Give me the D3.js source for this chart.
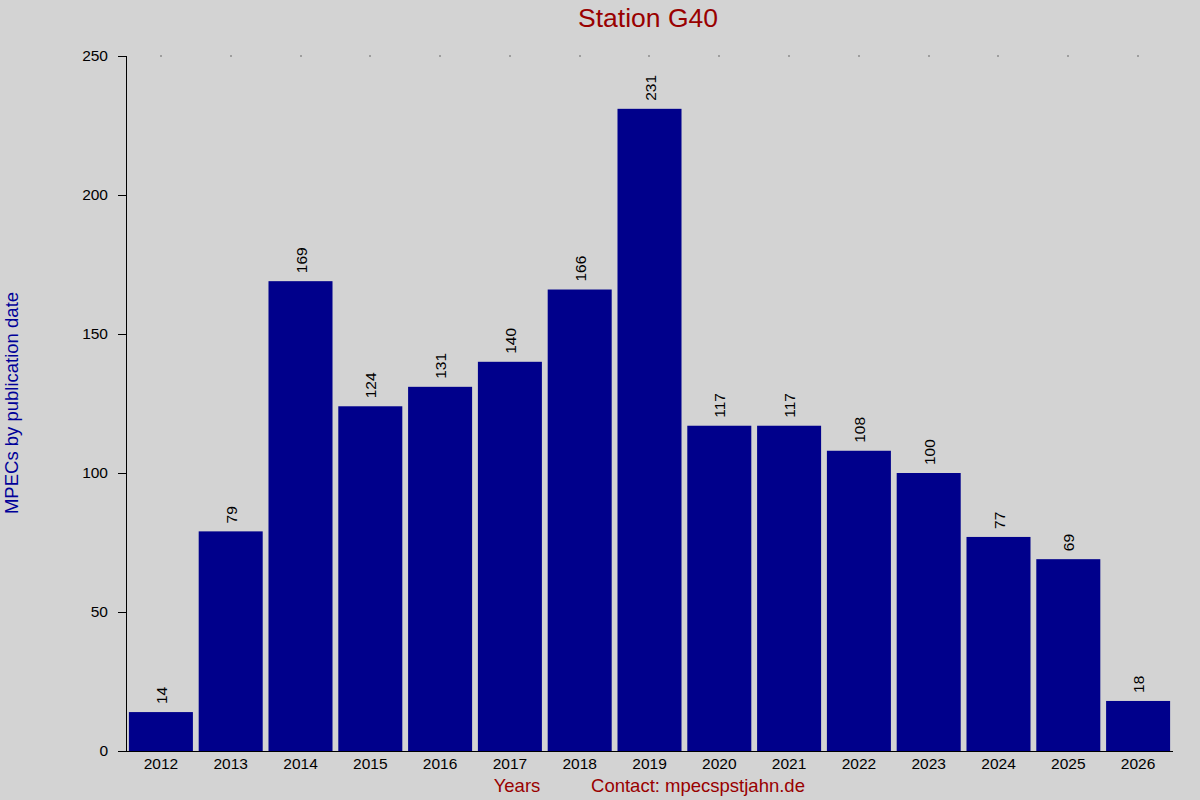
<!DOCTYPE html>
<html>
<head>
<meta charset="utf-8">
<script src="https://cdn.jsdelivr.net/npm/d3@7"></script>
<style>
	body { margin: 0; background: #d3d3d3; }
	svg { display: block; font-family: "Liberation Sans", Arial, sans-serif; }
</style>
</head>
<body>
<div id="chart"><svg></svg></div>
<script>
var years = ["2012", "2013", "2014", "2015", "2016", "2017", "2018", "2019",
	"2020", "2021", "2022", "2023", "2024", "2025", "2026"];
var counts = [14, 79, 169, 124, 131, 140, 166, 231, 117, 117, 108, 100, 77, 69, 18];
var yTicks = [0, 50, 100, 150, 200, 250];

var width = 1200, height = 800;
var p_left = 126, p_right = 1173, p_top = 56, p_bottom = 751;

var svg = d3.select("#chart").select("svg")
	.attr("width", width)
	.attr("height", height);

svg.append("rect")
	.attr("width", width)
	.attr("height", height)
	.style("fill", "#d3d3d3");

var x = d3.scaleBand()
	.domain(years)
	.range([p_left, p_right])
	.paddingInner(0.083)
	.paddingOuter(0.0415);

var y = d3.scaleLinear()
	.domain([0, 250])
	.range([p_bottom, p_top]);

var data = years.map(function(d, i) { return { year: d, value: counts[i] }; });

// bars
svg.selectAll(".bar")
	.data(data)
	.enter()
	.append("rect")
	.attr("class", "bar")
	.attr("x", function(d) { return x(d.year); })
	.attr("y", function(d) { return y(d.value); })
	.attr("width", x.bandwidth())
	.attr("height", function(d) { return p_bottom - y(d.value); })
	.style("fill", "#00008b");

// value labels
svg.selectAll(".val")
	.data(data)
	.enter()
	.append("text")
	.attr("class", "val")
	.attr("transform", function(d) {
		return "translate(" + (x(d.year) + x.bandwidth() / 2 + 6) + "," + (y(d.value) - 8) + ") rotate(-90)";
	})
	.style("font-size", "15.5px")
	.style("fill", "#000")
	.text(function(d) { return d.value; });

// little dots along the top
svg.selectAll(".dot")
	.data(years)
	.enter()
	.append("rect")
	.attr("class", "dot")
	.attr("x", function(d) { return Math.round(x(d) + x.bandwidth() / 2) - 0.5; })
	.attr("y", p_top - 0.5)
	.attr("width", 1)
	.attr("height", 1)
	.style("fill", "#000");

// y axis
var yAxis = d3.axisLeft(y)
	.tickValues(yTicks)
	.tickSize(8)
	.tickSizeOuter(0)
	.tickPadding(10);

var gy = svg.append("g")
	.attr("class", "y")
	.attr("transform", "translate(" + p_left + ",0)")
	.call(yAxis);
gy.selectAll("text").style("font-size", "15.5px").style("font-family", "'Liberation Sans', Arial, sans-serif");
gy.select(".domain").attr("d", "M0.5," + p_top + "V" + (p_bottom + 0.5));

// x axis
var xAxis = d3.axisBottom(x)
	.tickSize(0)
	.tickPadding(7);

var gx = svg.append("g")
	.attr("class", "x")
	.attr("transform", "translate(0," + p_bottom + ")")
	.call(xAxis);
gx.selectAll("text").style("font-size", "15.5px").style("font-family", "'Liberation Sans', Arial, sans-serif");
gx.select(".domain").attr("d", "M" + (p_left - 8) + ",0.5H" + p_right);

// titles
svg.append("text")
	.attr("x", 648)
	.attr("y", 27)
	.style("text-anchor", "middle")
	.style("font-size", "26.5px")
	.style("fill", "#990000")
	.text("Station G40");

svg.append("text")
	.attr("x", 517)
	.attr("y", 792)
	.style("text-anchor", "middle")
	.style("font-size", "18.5px")
	.style("fill", "#990000")
	.text("Years");

svg.append("text")
	.attr("x", 698)
	.attr("y", 792)
	.style("text-anchor", "middle")
	.style("font-size", "18.5px")
	.style("fill", "#990000")
	.text("Contact: mpecspstjahn.de");

svg.append("text")
	.attr("transform", "translate(18,403) rotate(-90)")
	.style("text-anchor", "middle")
	.style("font-size", "18.5px")
	.style("fill", "#000099")
	.text("MPECs by publication date");
</script>
</body>
</html>
